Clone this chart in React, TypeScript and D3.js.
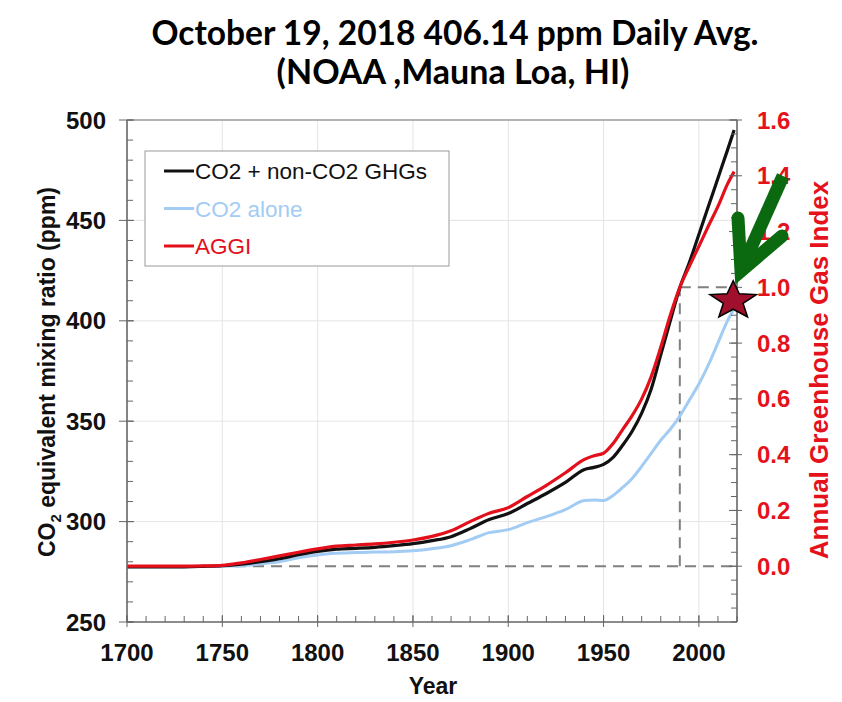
import React from "react";
import * as d3 from "d3";

const years = [1700, 1710, 1720, 1730, 1740, 1750, 1760, 1770, 1780, 1790, 1800, 1810, 1820, 1830, 1840, 1850, 1860, 1870, 1880, 1890, 1900, 1910, 1920, 1930, 1940, 1945, 1950, 1955, 1960, 1965, 1970, 1975, 1980, 1985, 1990, 1995, 2000, 2005, 2010, 2015, 2018.5];
const co2eqAll = [277.5, 277.5, 277.5, 277.5, 277.7, 278, 278.8, 280, 281.5, 283.5, 285.2, 286.3, 286.7, 287.2, 288, 289, 290.5, 292.5, 296.5, 301, 304, 309, 314, 319.5, 326, 327, 328.5, 332, 338, 345, 354, 366, 383, 400, 416.5, 429, 443, 457, 471, 485, 495];
const co2Alone = [277.5, 277.5, 277.5, 277.5, 277.6, 277.8, 278, 279, 280, 282, 283.4, 284.2, 284.6, 284.8, 285, 285.5, 286.5, 288, 291, 294.5, 296, 299.5, 302.5, 306, 310.5, 310.8, 310.5, 313, 317, 321.5, 327.5, 334, 340.5, 346, 352.5, 360.5, 368.5, 378, 389, 400, 406];
const aggi = [0, 0, 0, 0, 0.001, 0.003, 0.012, 0.024, 0.037, 0.05, 0.062, 0.072, 0.076, 0.08, 0.086, 0.094, 0.107, 0.127, 0.16, 0.19, 0.21, 0.25, 0.29, 0.335, 0.383, 0.396, 0.405, 0.44, 0.49, 0.54, 0.6, 0.68, 0.785, 0.9, 1.0, 1.075, 1.147, 1.22, 1.29, 1.37, 1.415];

const xTicks = [1700, 1750, 1800, 1850, 1900, 1950, 2000];
const yLeftTicks = [250, 300, 350, 400, 450, 500];
const yRightTicks = [0, 0.2, 0.4, 0.6, 0.8, 1.0, 1.2, 1.4, 1.6];
const legendItems = ["CO2 + non-CO2 GHGs", "CO2 alone", "AGGI"];
const titleLines = ["October 19, 2018 406.14 ppm Daily Avg.", "(NOAA ,Mauna Loa, HI)"];
const refYear = 1990;
const refIndex = 1.0;
const starPoint = { year: 2018, ppm: 410 };

const BLACK = "#111111";
const BLUE = "#a3ccf4";
const RED = "#e3101c";
const LABEL_RED = "#e5121c";
const AXIS = "#666666";

export default function App() {
  const W = 842, H = 702;
  const x = d3.scaleLinear().domain([1700, 2020]).range([127, 737]);
  const yL = d3.scaleLinear().domain([250, 500]).range([622, 120]);
  const yR = d3.scaleLinear().domain([-0.2, 1.6]).range([622, 120]);

  const lineL = d3.line<number>().x((_, i) => x(years[i])).y((d) => yL(d)).curve(d3.curveMonotoneX);
  const lineR = d3.line<number>().x((_, i) => x(years[i])).y((d) => yR(d)).curve(d3.curveMonotoneX);

  const [x0, x1] = x.range();
  const [yb, yt] = yL.range();

  const minorX = d3.range(1700, 2021, 10);
  const minorYL = d3.range(250, 501, 10);
  const minorYR = d3.range(-0.2, 1.6001, 0.05);

  // star
  const sx = x(starPoint.year), sy = yL(starPoint.ppm);
  const R = 20, r = 8.5;
  const starPts: string[] = [];
  for (let i = 0; i < 10; i++) {
    const a = -Math.PI / 2 + (i * Math.PI) / 5;
    const rr = i % 2 === 0 ? R : r;
    starPts.push(`${(rr * Math.cos(a) * 1.22).toFixed(2)},${(rr * Math.sin(a)).toFixed(2)}`);
  }

  const font = "'Liberation Sans', Arial, Helvetica, sans-serif";

  return (
    <svg width={W} height={H} style={{ position: "absolute", left: 0, top: 0, background: "#fff" }} fontFamily={font}>
      <rect x={0} y={0} width={W} height={H} fill="#fff" />
      {/* title */}
      <g fontFamily="Lato, 'Open Sans', sans-serif" fontWeight="bold" textAnchor="middle" fill="#000">
        <text x={455} y={45} fontSize={33.5}>{titleLines[0]}</text>
        <text x={453} y={84} fontSize={34}>{titleLines[1]}</text>
      </g>

      {/* grid */}
      <g stroke="#e4e4e4" strokeWidth={1}>
        {xTicks.filter((t) => t > 1700).map((t) => (
          <line key={"gx" + t} x1={x(t)} x2={x(t)} y1={yt} y2={yb} />
        ))}
        {yLeftTicks.filter((t) => t > 250 && t < 500).map((t) => (
          <line key={"gy" + t} x1={x0} x2={x1} y1={yL(t)} y2={yL(t)} />
        ))}
      </g>

      {/* legend */}
      <rect x={145} y={151} width={304} height={115} fill="#fff" stroke="#9a9a9a" strokeWidth={1} />
      {legendItems.map((name, i) => {
        const col = [BLACK, BLUE, RED][i];
        const cy = 171 + i * 37.5;
        return (
          <g key={name}>
            <line x1={164} x2={194} y1={cy} y2={cy} stroke={col} strokeWidth={3} />
            <text x={195} y={cy + 8} fontSize={22.5} fill={col}>{name}</text>
          </g>
        );
      })}

      {/* dashed reference lines */}
      <g stroke="#808080" strokeWidth={2} strokeDasharray="11,7" fill="none">
        <line x1={x0} x2={x1} y1={yR(0)} y2={yR(0)} />
        <line x1={x(refYear)} x2={x(refYear)} y1={yR(0)} y2={yR(refIndex)} />
        <line x1={x(refYear)} x2={x1} y1={yR(refIndex)} y2={yR(refIndex)} />
      </g>

      {/* data lines */}
      <path d={lineL(co2Alone) || ""} fill="none" stroke={BLUE} strokeWidth={3} />
      <path d={lineL(co2eqAll) || ""} fill="none" stroke={BLACK} strokeWidth={3.2} />
      <path d={lineR(aggi) || ""} fill="none" stroke={RED} strokeWidth={3.2} />

      {/* frame */}
      <line x1={x0} x2={x1} y1={yt} y2={yt} stroke="#9a9a9a" strokeWidth={1.5} />
      <g stroke={AXIS} strokeWidth={1.6}>
        <line x1={x0} x2={x0} y1={yt} y2={yb} />
        <line x1={x1} x2={x1} y1={yt} y2={yb} />
        <line x1={x0} x2={x1} y1={yb} y2={yb} />
      </g>

      {/* ticks */}
      <g stroke={AXIS} strokeWidth={1}>
        {minorX.map((t) => (
          <line key={"mx" + t} x1={x(t)} x2={x(t)} y1={yb} y2={yb - 6} />
        ))}
        {xTicks.map((t) => (
          <line key={"Mx" + t} x1={x(t)} x2={x(t)} y1={yb + 5} y2={yb - 7} />
        ))}
        {minorYL.map((t) => (
          <line key={"myl" + t} x1={x0} x2={x0 + 6} y1={yL(t)} y2={yL(t)} />
        ))}
        {yLeftTicks.map((t) => (
          <line key={"Myl" + t} x1={x0 - 8} x2={x0 + 7} y1={yL(t)} y2={yL(t)} />
        ))}
        {minorYR.map((t, i) => (
          <line key={"myr" + i} x1={x1} x2={x1 - 6} y1={yR(t)} y2={yR(t)} />
        ))}
        {yRightTicks.map((t) => (
          <line key={"Myr" + t} x1={x1 + 5} x2={x1 - 8} y1={yR(t)} y2={yR(t)} />
        ))}
      </g>

      {/* tick labels */}
      <g fontSize={24} fontWeight="bold" fill="#111">
        {xTicks.map((t) => (
          <text key={"lx" + t} x={x(t)} y={661} textAnchor="middle">{t}</text>
        ))}
        {yLeftTicks.map((t) => (
          <text key={"ly" + t} x={106} y={yL(t) + 8.5} textAnchor="end">{t}</text>
        ))}
      </g>
      <g fontSize={24} fontWeight="bold" fill={LABEL_RED}>
        {yRightTicks.map((t) => (
          <text key={"lr" + t} x={757} y={yR(t) + 8.5} textAnchor="start">{t.toFixed(1)}</text>
        ))}
      </g>

      {/* axis titles */}
      <text x={433} y={694} textAnchor="middle" fontSize={23} fontWeight="bold" fill="#111">Year</text>
      <text transform={`translate(55,372) rotate(-90)`} textAnchor="middle" fontSize={23} fontWeight="bold" fill="#111">
        CO<tspan fontSize={15} dy={6}>2</tspan><tspan dy={-6}> equivalent mixing ratio (ppm)</tspan>
      </text>
      <text transform={`translate(828,370) rotate(-90)`} textAnchor="middle" fontSize={26} fontWeight="bold" fill={LABEL_RED}>
        Annual Greenhouse Gas Index
      </text>

      {/* star */}
      <polygon points={starPts.join(" ")} transform={`translate(${sx},${sy})`} fill="#a0102c" stroke="#000" strokeWidth={1.5} />

      {/* arrow */}
      <g stroke="#0b6a10" fill="none">
        <line x1={783} y1={176} x2={742} y2={268} strokeWidth={13} strokeLinecap="butt" />
        <polyline points="738,218 741,271 782,236" strokeWidth={13} strokeLinecap="round" strokeLinejoin="miter" strokeMiterlimit={10} />
      </g>
    </svg>
  );
}
